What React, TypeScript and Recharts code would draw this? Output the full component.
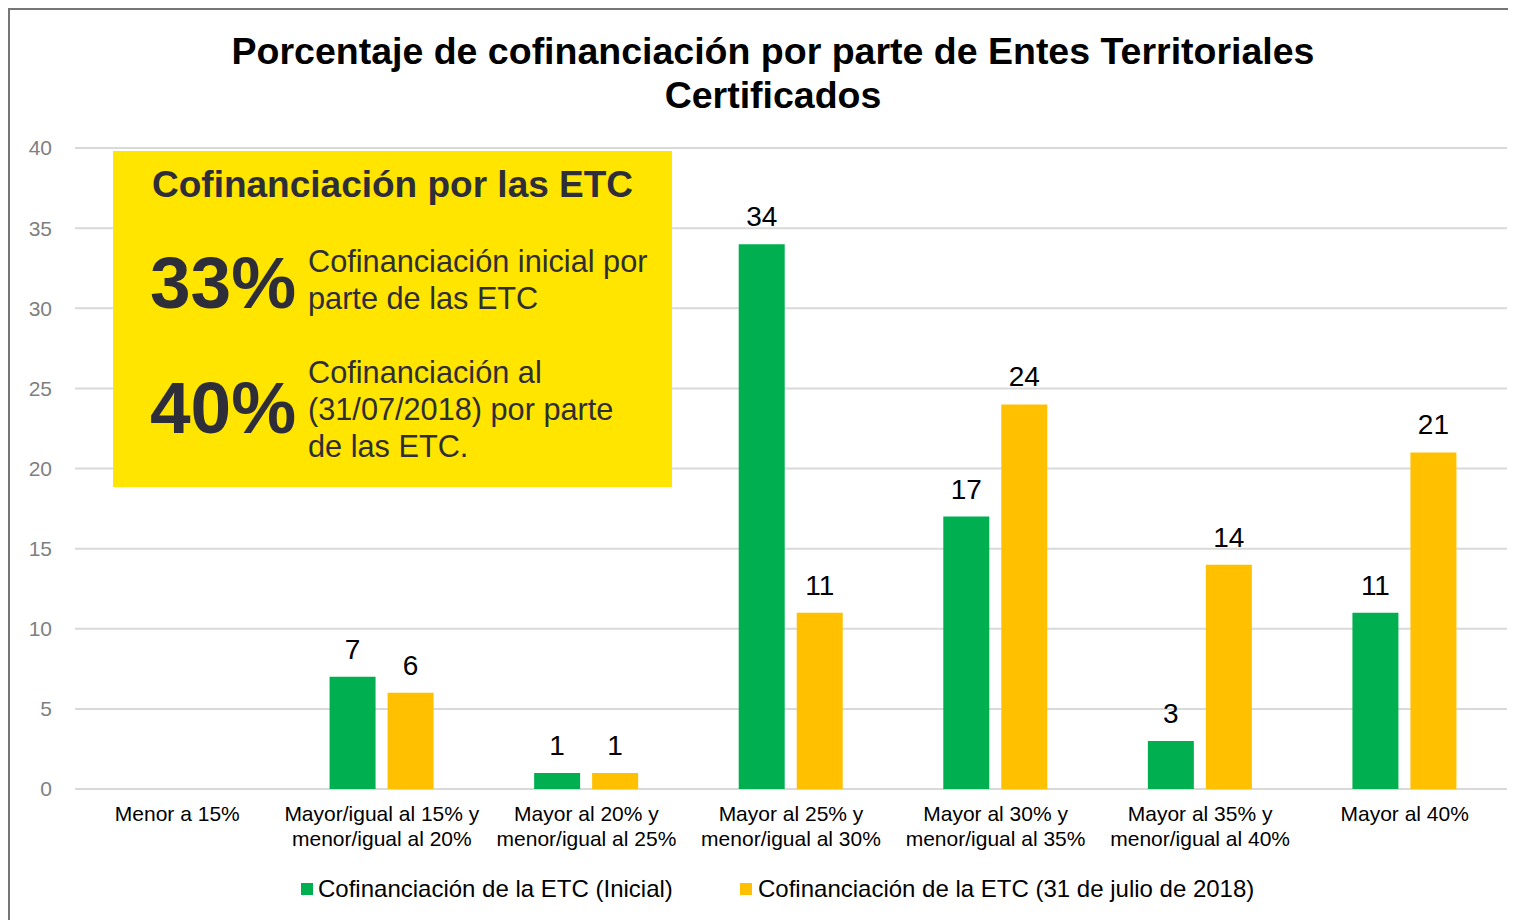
import { BarChart, Bar, XAxis, YAxis, CartesianGrid, LabelList } from 'recharts'

const categoryLines = [
  ['Menor a 15%'],
  ['Mayor/igual al 15% y', 'menor/igual al 20%'],
  ['Mayor al 20% y', 'menor/igual al 25%'],
  ['Mayor al 25% y', 'menor/igual al 30%'],
  ['Mayor al 30% y', 'menor/igual al 35%'],
  ['Mayor al 35% y', 'menor/igual al 40%'],
  ['Mayor al 40%'],
]
const inicial = [0, 7, 1, 34, 17, 3, 11]
const julio = [0, 6, 1, 11, 24, 14, 21]
const yTicks = [0, 5, 10, 15, 20, 25, 30, 35, 40]

const titleLines = ['Porcentaje de cofinanciación por parte de Entes Territoriales', 'Certificados']
const seriesNames = ['Cofinanciación de la ETC (Inicial)', 'Cofinanciación de la ETC (31 de julio de 2018)']

const GREEN = '#00B050'
const YELLOW = '#FFC000'
const FONT = '"Liberation Sans", Arial, sans-serif'
const INK = '#2e2e3a'

const data = categoryLines.map((lines, i) => ({
  category: lines.join(' '),
  inicial: inicial[i],
  julio: julio[i],
}))

function CategoryTick({ x, y, index }: any) {
  const lines = categoryLines[index] ?? []
  return (
    <text x={x} y={y + 24} textAnchor="middle" fontSize={21} fill="#000" fontFamily={FONT}>
      {lines.map((l, i) => (
        <tspan key={i} x={x} dy={i === 0 ? 0 : 25}>
          {l}
        </tspan>
      ))}
    </text>
  )
}

const hideZero = (v: any) => (v ? v : '')

export default function App() {
  return (
    <div style={{ position: 'relative', width: 1508, height: 912, overflow: 'hidden', background: '#fff' }}>
      <div
        style={{
          position: 'absolute',
          left: 0,
          top: 0,
          width: 1560,
          height: 960,
          border: '2px solid #767676',
          boxSizing: 'border-box',
        }}
      />
      <div style={{ position: 'absolute', left: 0, top: 0 }}>
        <BarChart
          width={1508}
          height={912}
          data={data}
          margin={{ top: 140, right: 9, left: 0, bottom: 0 }}
          barSize={46}
          barGap={12}
        >
          <CartesianGrid vertical={false} stroke="#d9d9d9" strokeWidth={2} />
          <XAxis
            dataKey="category"
            height={131}
            axisLine={false}
            tickLine={false}
            interval={0}
            tick={<CategoryTick />}
          />
          <YAxis
            width={67}
            domain={[0, 40]}
            ticks={yTicks}
            axisLine={false}
            tickLine={false}
            tickMargin={17}
            tick={{ fontSize: 21, fill: '#7f7f7f', fontFamily: FONT }}
          />
          <Bar dataKey="inicial" fill={GREEN} isAnimationActive={false}>
            <LabelList dataKey="inicial" position="top" offset={18} fontSize={28} fill="#000" fontFamily={FONT} formatter={hideZero} />
          </Bar>
          <Bar dataKey="julio" fill={YELLOW} isAnimationActive={false}>
            <LabelList dataKey="julio" position="top" offset={18} fontSize={28} fill="#000" fontFamily={FONT} formatter={hideZero} />
          </Bar>
        </BarChart>
      </div>
      <svg
        width={1508}
        height={912}
        style={{ position: 'absolute', left: 0, top: 0, pointerEvents: 'none' }}
        fontFamily={FONT}
      >
        {/* title */}
        <text x={765} y={56} textAnchor="middle" fontSize={37.5} fontWeight="bold" fill="#000">
          {titleLines[0]}
        </text>
        <text x={765} y={100} textAnchor="middle" fontSize={37.5} fontWeight="bold" fill="#000">
          {titleLines[1]}
        </text>

        {/* callout box */}
        <g transform="translate(105,143)">
          <rect width={559} height={336} fill="#FFE500" />
          <text x={39} y={46} fontSize={37} fontWeight="bold" fill={INK}>
            Cofinanciación por las ETC
          </text>
          <text x={37} y={157} fontSize={73} fontWeight="bold" fill={INK}>
            33%
          </text>
          <text x={195} y={121} fontSize={30.7} fill={INK}>
            Cofinanciación inicial por
          </text>
          <text x={195} y={158} fontSize={30.7} fill={INK}>
            parte de las ETC
          </text>
          <text x={37} y={282} fontSize={73} fontWeight="bold" fill={INK}>
            40%
          </text>
          <text x={195} y={232} fontSize={30.7} fill={INK}>
            Cofinanciación al
          </text>
          <text x={195} y={269} fontSize={30.7} fill={INK}>
            (31/07/2018) por parte
          </text>
          <text x={195} y={306} fontSize={30.7} fill={INK}>
            de las ETC.
          </text>
        </g>

        {/* legend */}
        <rect x={293} y={875} width={12} height={12} fill={GREEN} />
        <text x={310} y={889} fontSize={24} fill="#000">
          {seriesNames[0]}
        </text>
        <rect x={732} y={875} width={12} height={12} fill={YELLOW} />
        <text x={750} y={889} fontSize={24} fill="#000">
          {seriesNames[1]}
        </text>
      </svg>
    </div>
  )
}
